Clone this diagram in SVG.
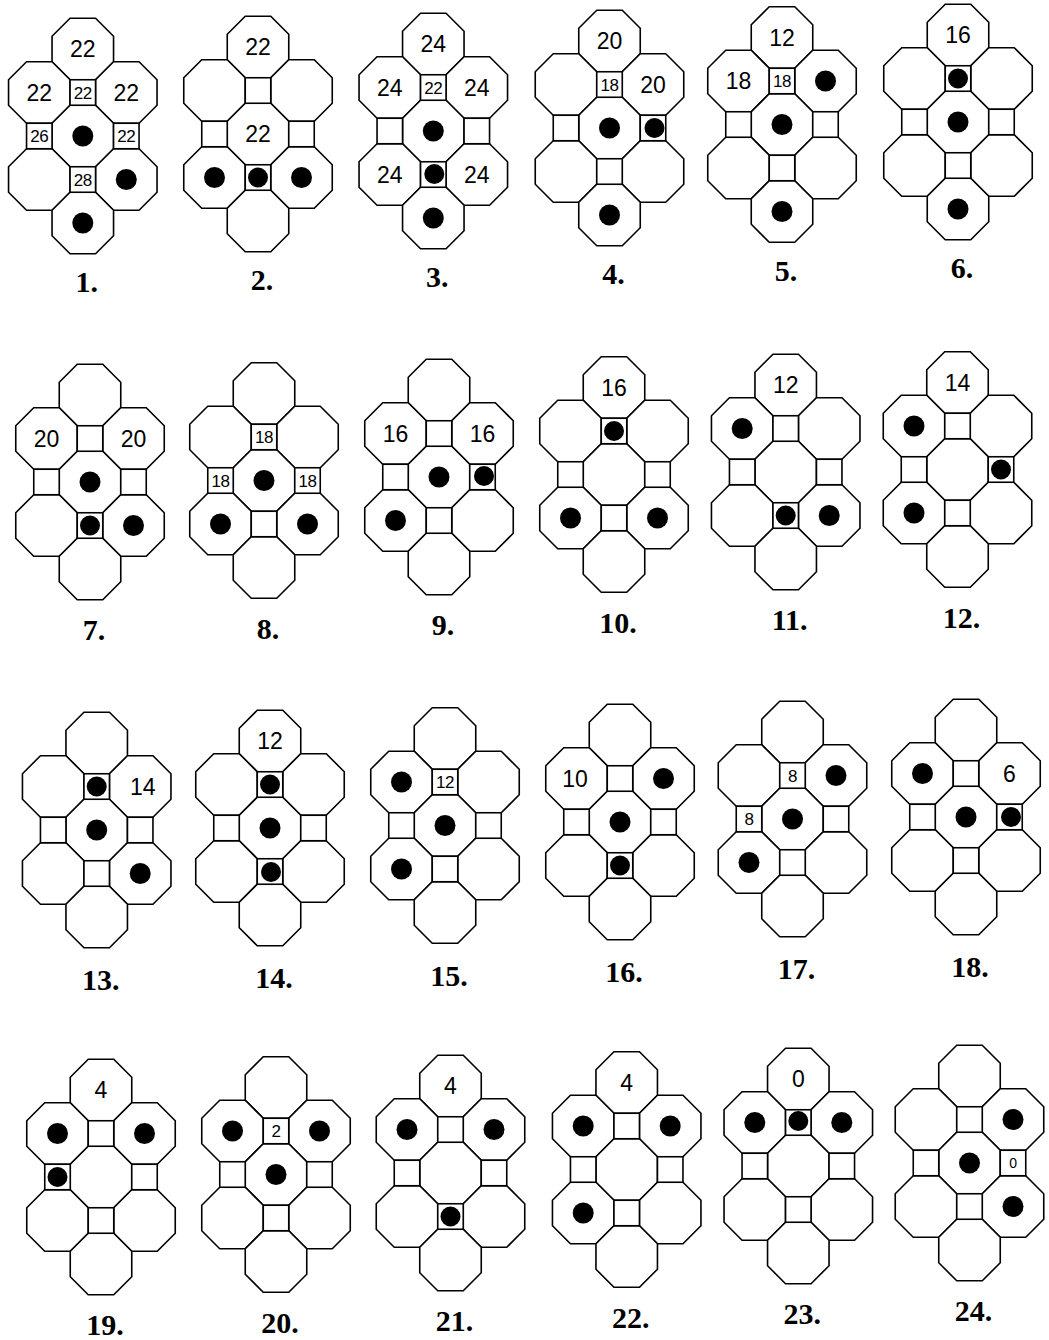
<svg xmlns="http://www.w3.org/2000/svg" xmlns:xlink="http://www.w3.org/1999/xlink" width="1049" height="1340" viewBox="0 0 1049 1340">
<style>
.cell{fill:#fff;stroke:#000;stroke-width:1.6;stroke-linejoin:miter}
.dot{fill:#000}
.n{font-family:"Liberation Sans",Arial,sans-serif;font-size:23px;text-anchor:middle;fill:#000}
.s{font-family:"Liberation Sans",Arial,sans-serif;font-size:17px;letter-spacing:-0.5px;text-anchor:middle;fill:#000}
.lb{font-family:"Liberation Serif","Times New Roman",serif;font-size:30px;font-weight:bold;text-anchor:middle;fill:#000}
</style>
<defs>
<polygon id="oct" class="cell" points="-12.75,-30.75 12.75,-30.75 30.75,-12.75 30.75,12.75 12.75,30.75 -12.75,30.75 -30.75,12.75 -30.75,-12.75"/>
<rect id="sq" class="cell" x="-12.75" y="-12.75" width="25.5" height="25.5"/>
<g id="tile">
<use href="#oct" x="0" y="0"/>
<use href="#oct" x="-43.5" y="43.5"/>
<use href="#oct" x="43.5" y="43.5"/>
<use href="#oct" x="0" y="87"/>
<use href="#oct" x="-43.5" y="130.5"/>
<use href="#oct" x="43.5" y="130.5"/>
<use href="#oct" x="0" y="174"/>
<use href="#sq" x="0" y="43.5"/>
<use href="#sq" x="-43.5" y="87"/>
<use href="#sq" x="43.5" y="87"/>
<use href="#sq" x="0" y="130.5"/>
</g>
</defs>
<rect x="0" y="0" width="1049" height="1340" fill="#fff"/>

<!-- Row 1 -->
<g id="panel-1" transform="translate(82.8,49)">
<use href="#tile"/>
<text class="n" x="0" y="8">22</text>
<text class="n" x="-43.5" y="51.5">22</text>
<text class="n" x="43.5" y="51.5">22</text>
<text class="s" x="0" y="49.5">22</text>
<text class="s" x="-43.5" y="93">26</text>
<text class="s" x="43.5" y="93">22</text>
<text class="s" x="0" y="136.5">28</text>
<circle class="dot" cx="0" cy="87" r="10.5"/>
<circle class="dot" cx="43.5" cy="130.5" r="10.5"/>
<circle class="dot" cx="0" cy="174" r="10.5"/>
<text class="lb" x="4" y="243">1.</text>
</g>
<g id="panel-2" transform="translate(258,47)">
<use href="#tile"/>
<text class="n" x="0" y="8">22</text>
<text class="n" x="0" y="95">22</text>
<circle class="dot" cx="-43.5" cy="130.5" r="10.5"/>
<circle class="dot" cx="0" cy="130.5" r="10"/>
<circle class="dot" cx="43.5" cy="130.5" r="10.5"/>
<text class="lb" x="4" y="243">2.</text>
</g>
<g id="panel-3" transform="translate(433.3,44)">
<use href="#tile"/>
<text class="n" x="0" y="8">24</text>
<text class="n" x="-43.5" y="51.5">24</text>
<text class="n" x="43.5" y="51.5">24</text>
<text class="s" x="0" y="49.5">22</text>
<text class="n" x="-43.5" y="138.5">24</text>
<text class="n" x="43.5" y="138.5">24</text>
<circle class="dot" cx="0" cy="87" r="10.5"/>
<circle class="dot" cx="1" cy="130" r="10"/>
<circle class="dot" cx="0" cy="174" r="10.5"/>
<text class="lb" x="4" y="243">3.</text>
</g>
<g id="panel-4" transform="translate(609.5,41)">
<use href="#tile"/>
<text class="n" x="0" y="8">20</text>
<text class="s" x="0" y="49.5">18</text>
<text class="n" x="43.5" y="51.5">20</text>
<circle class="dot" cx="0" cy="87" r="10.5"/>
<circle class="dot" cx="45" cy="87" r="10"/>
<circle class="dot" cx="0" cy="174" r="10.5"/>
<text class="lb" x="4" y="243">4.</text>
</g>
<g id="panel-5" transform="translate(782,37.5)">
<use href="#tile"/>
<text class="n" x="0" y="8">12</text>
<text class="n" x="-43.5" y="51.5">18</text>
<text class="s" x="0" y="49.5">18</text>
<circle class="dot" cx="43.5" cy="43.5" r="10.5"/>
<circle class="dot" cx="0" cy="87" r="10.5"/>
<circle class="dot" cx="0" cy="174" r="10.5"/>
<text class="lb" x="4" y="243">5.</text>
</g>
<g id="panel-6" transform="translate(958,35)">
<use href="#tile"/>
<text class="n" x="0" y="8">16</text>
<circle class="dot" cx="0" cy="43.5" r="10"/>
<circle class="dot" cx="0" cy="87" r="10.5"/>
<circle class="dot" cx="0" cy="174" r="10.5"/>
<text class="lb" x="4" y="243">6.</text>
</g>

<!-- Row 2 -->
<g id="panel-7" transform="translate(90,395)">
<use href="#tile"/>
<text class="n" x="-43.5" y="51.5">20</text>
<text class="n" x="43.5" y="51.5">20</text>
<circle class="dot" cx="0" cy="87" r="10.5"/>
<circle class="dot" cx="0" cy="130.5" r="10"/>
<circle class="dot" cx="43.5" cy="130.5" r="10.5"/>
<text class="lb" x="4" y="245">7.</text>
</g>
<g id="panel-8" transform="translate(264,393.5)">
<use href="#tile"/>
<text class="s" x="0" y="49.5">18</text>
<text class="s" x="-43.5" y="93">18</text>
<text class="s" x="43.5" y="93">18</text>
<circle class="dot" cx="0" cy="87" r="10.5"/>
<circle class="dot" cx="-43.5" cy="130.5" r="10.5"/>
<circle class="dot" cx="43.5" cy="130.5" r="10.5"/>
<text class="lb" x="4" y="245">8.</text>
</g>
<g id="panel-9" transform="translate(439,390)">
<use href="#tile"/>
<text class="n" x="-43.5" y="51.5">16</text>
<text class="n" x="43.5" y="51.5">16</text>
<circle class="dot" cx="0" cy="87" r="10.5"/>
<circle class="dot" cx="45" cy="86" r="10"/>
<circle class="dot" cx="-43.5" cy="130.5" r="10.5"/>
<text class="lb" x="4" y="245">9.</text>
</g>
<g id="panel-10" transform="translate(614,387.5)">
<use href="#tile"/>
<text class="n" x="0" y="8">16</text>
<circle class="dot" cx="0" cy="43.5" r="10"/>
<circle class="dot" cx="-43.5" cy="130.5" r="10.5"/>
<circle class="dot" cx="43.5" cy="130.5" r="10.5"/>
<text class="lb" x="4" y="245">10.</text>
</g>
<g id="panel-11" transform="translate(785.7,385)">
<use href="#tile"/>
<text class="n" x="0" y="8">12</text>
<circle class="dot" cx="-43.5" cy="43.5" r="10.5"/>
<circle class="dot" cx="0" cy="130.5" r="10"/>
<circle class="dot" cx="43.5" cy="130.5" r="10.5"/>
<text class="lb" x="4" y="245">11.</text>
</g>
<g id="panel-12" transform="translate(957.5,382.5)">
<use href="#tile"/>
<text class="n" x="0" y="8">14</text>
<circle class="dot" cx="-43.5" cy="43.5" r="10.5"/>
<circle class="dot" cx="43.5" cy="87" r="10"/>
<circle class="dot" cx="-43.5" cy="130.5" r="10.5"/>
<text class="lb" x="4" y="245">12.</text>
</g>

<!-- Row 3 -->
<g id="panel-13" transform="translate(96.7,743)">
<use href="#tile"/>
<circle class="dot" cx="0" cy="43.5" r="10"/>
<text class="n" x="46" y="51.5">14</text>
<circle class="dot" cx="0" cy="87" r="10.5"/>
<circle class="dot" cx="43.5" cy="130.5" r="10.5"/>
<text class="lb" x="4" y="247">13.</text>
</g>
<g id="panel-14" transform="translate(270,741)">
<use href="#tile"/>
<text class="n" x="0" y="8">12</text>
<circle class="dot" cx="0" cy="43.5" r="10"/>
<circle class="dot" cx="0" cy="87" r="10.5"/>
<circle class="dot" cx="1" cy="131" r="10"/>
<text class="lb" x="4" y="247">14.</text>
</g>
<g id="panel-15" transform="translate(445,738.5)">
<use href="#tile"/>
<circle class="dot" cx="-43.5" cy="43.5" r="10.5"/>
<text class="s" x="0" y="49.5">12</text>
<circle class="dot" cx="0" cy="87" r="10.5"/>
<circle class="dot" cx="-43.5" cy="130.5" r="10.5"/>
<text class="lb" x="4" y="247">15.</text>
</g>
<g id="panel-16" transform="translate(620,735)">
<use href="#tile"/>
<text class="n" x="-45" y="51.5">10</text>
<circle class="dot" cx="43.5" cy="43.5" r="10.5"/>
<circle class="dot" cx="0" cy="87" r="10.5"/>
<circle class="dot" cx="0" cy="130.5" r="10"/>
<text class="lb" x="4" y="247">16.</text>
</g>
<g id="panel-17" transform="translate(792.5,732)">
<use href="#tile"/>
<text class="s" x="0" y="49.5">8</text>
<circle class="dot" cx="43.5" cy="43.5" r="10.5"/>
<text class="s" x="-43.5" y="93">8</text>
<circle class="dot" cx="0" cy="87" r="10.5"/>
<circle class="dot" cx="-43.5" cy="130.5" r="10.5"/>
<text class="lb" x="4" y="247">17.</text>
</g>
<g id="panel-18" transform="translate(966,730)">
<use href="#tile"/>
<circle class="dot" cx="-43.5" cy="43.5" r="10.5"/>
<text class="n" x="43.5" y="51.5">6</text>
<circle class="dot" cx="0" cy="87" r="10.5"/>
<circle class="dot" cx="45" cy="87" r="10"/>
<text class="lb" x="4" y="247">18.</text>
</g>

<!-- Row 4 -->
<g id="panel-19" transform="translate(101,1090)">
<use href="#tile"/>
<text class="n" x="0" y="8">4</text>
<circle class="dot" cx="-43.5" cy="43.5" r="10.5"/>
<circle class="dot" cx="43.5" cy="43.5" r="10.5"/>
<circle class="dot" cx="-43.5" cy="87" r="10"/>
<text class="lb" x="4" y="245">19.</text>
</g>
<g id="panel-20" transform="translate(276,1087.5)">
<use href="#tile"/>
<circle class="dot" cx="-43.5" cy="43.5" r="10.5"/>
<text class="s" x="0" y="49.5">2</text>
<circle class="dot" cx="43.5" cy="43.5" r="10.5"/>
<circle class="dot" cx="0" cy="87" r="10.5"/>
<text class="lb" x="4" y="245">20.</text>
</g>
<g id="panel-21" transform="translate(450.5,1086)">
<use href="#tile"/>
<text class="n" x="0" y="8">4</text>
<circle class="dot" cx="-43.5" cy="43.5" r="10.5"/>
<circle class="dot" cx="43.5" cy="43.5" r="10.5"/>
<circle class="dot" cx="0" cy="130.5" r="10"/>
<text class="lb" x="4" y="245">21.</text>
</g>
<g id="panel-22" transform="translate(626.7,1082.5)">
<use href="#tile"/>
<text class="n" x="0" y="8">4</text>
<circle class="dot" cx="-43.5" cy="43.5" r="10.5"/>
<circle class="dot" cx="43.5" cy="43.5" r="10.5"/>
<circle class="dot" cx="-43.5" cy="130.5" r="10.5"/>
<text class="lb" x="4" y="245">22.</text>
</g>
<g id="panel-23" transform="translate(798.3,1079)">
<use href="#tile"/>
<text class="n" x="0" y="8">0</text>
<circle class="dot" cx="-43.5" cy="43.5" r="10.5"/>
<circle class="dot" cx="0" cy="42" r="10"/>
<circle class="dot" cx="43.5" cy="43.5" r="10.5"/>
<text class="lb" x="4" y="245">23.</text>
</g>
<g id="panel-24" transform="translate(969.5,1076)">
<use href="#tile"/>
<circle class="dot" cx="43.5" cy="43.5" r="10.5"/>
<circle class="dot" cx="0" cy="87" r="10.5"/>
<text class="s" x="43.5" y="92" style="font-size:14px">0</text>
<circle class="dot" cx="43.5" cy="130.5" r="10.5"/>
<text class="lb" x="4" y="245">24.</text>
</g>
</svg>
